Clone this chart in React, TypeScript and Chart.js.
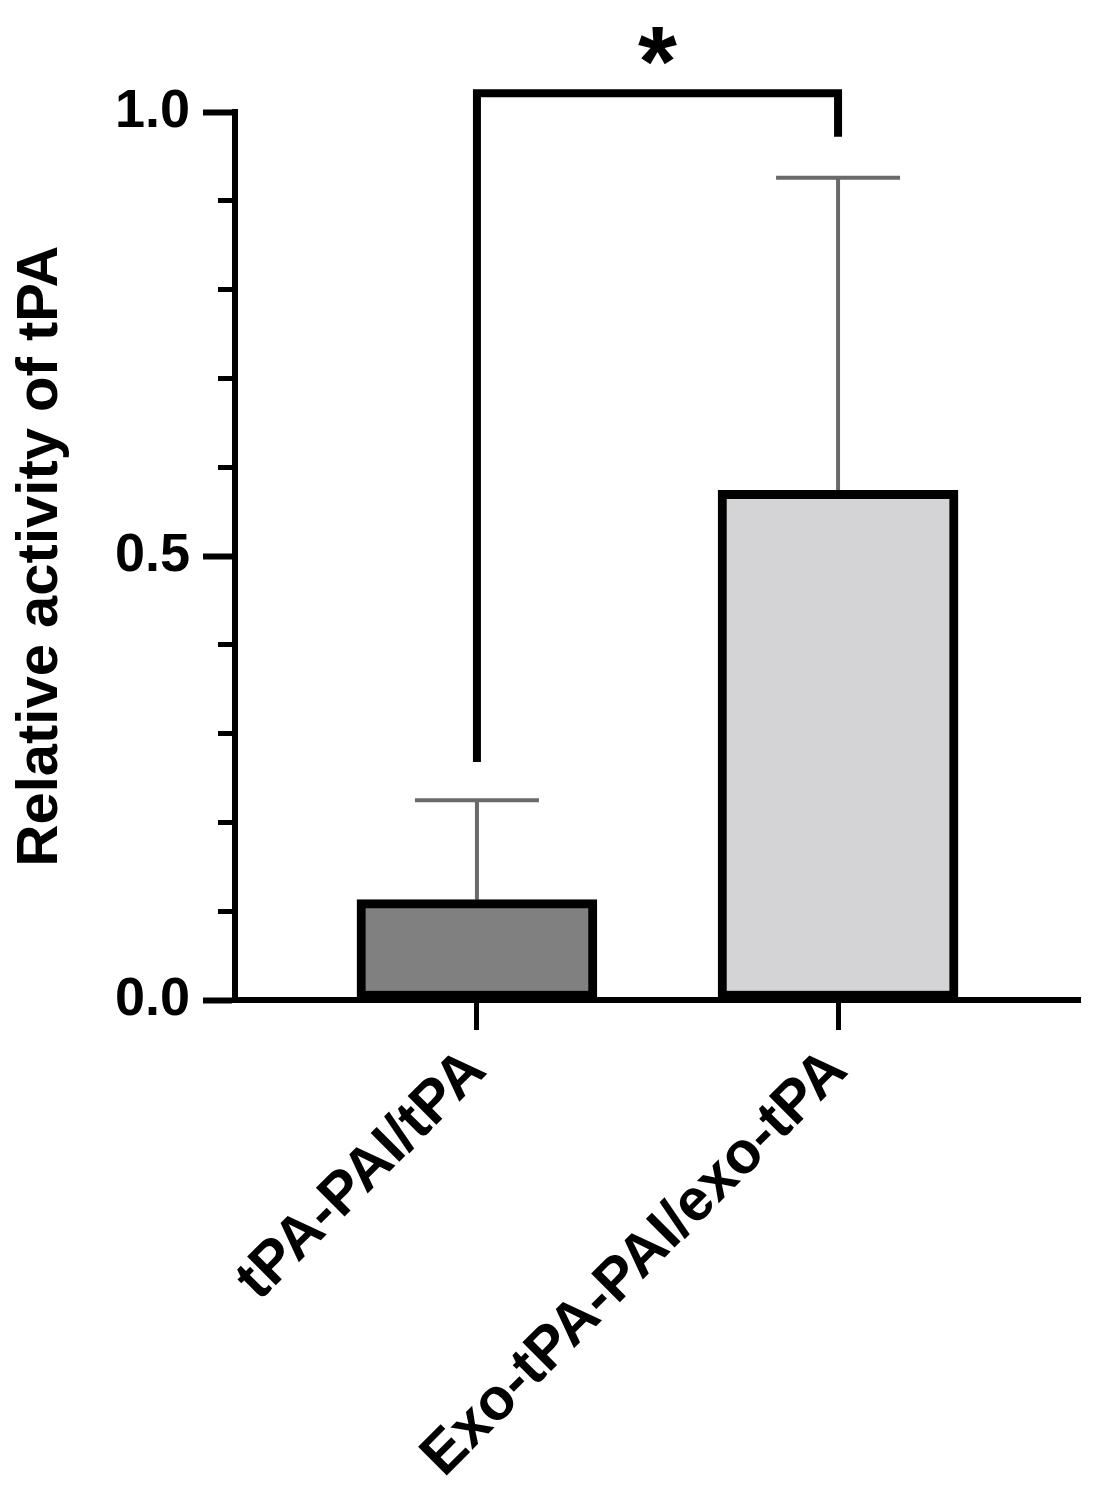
import { useEffect, useRef } from "react";
import { Chart, registerables } from "chart.js";

Chart.register(...registerables);

// ---- data ----
const CATEGORIES = ["tPA-PAI/tPA", "Exo-tPA-PAI/exo-tPA"];
const CATEGORY_POS = [0, 1];
const MEANS = [0.113, 0.574];
const ERROR_TOPS = [0.225, 0.926];
const BAR_COLORS = ["#808080", "#d4d4d7"];
const Y_TICKS = [0, 0.05, 0.1, 0.15, 0.2, 0.25, 0.3, 0.35, 0.4, 0.45, 0.5, 0.55, 0.6, 0.65, 0.7, 0.75, 0.8, 0.85, 0.9, 0.95, 1.0];
const Y_LABELED = [0, 0.5, 1.0];
const Y_TITLE = "Relative activity of tPA";
// significance bracket: left leg bottom, bracket top, right leg bottom (y values)
const BRACKET_Y = [0.268, 1.021, 0.972];
const SIG_MARK = "*";
const SIG_MARK_Y = 1.081;

const FONT_FAMILY = "'Liberation Sans', Arial, Helvetica, sans-serif";

const isLabeled = (v: number) => Y_LABELED.some((l) => Math.abs(l - v) < 1e-6);

export default function App() {
  const canvasRef = useRef<HTMLCanvasElement | null>(null);

  useEffect(() => {
    const canvas = canvasRef.current;
    if (!canvas) return;

    const overlay = {
      id: "overlay",
      beforeDatasetsDraw(chart: any) {
        const { ctx } = chart;
        const xs = chart.scales.x;
        const ys = chart.scales.y;
        ctx.save();
        ctx.strokeStyle = "#6a6a6a";
        ctx.lineWidth = 4;
        ctx.lineCap = "butt";
        CATEGORY_POS.forEach((p, i) => {
          const x = xs.getPixelForValue(p);
          const y0 = ys.getPixelForValue(MEANS[i]);
          const y1 = ys.getPixelForValue(ERROR_TOPS[i]);
          ctx.beginPath();
          ctx.moveTo(x, y0);
          ctx.lineTo(x, y1);
          ctx.stroke();
          ctx.beginPath();
          ctx.moveTo(x - 62, y1);
          ctx.lineTo(x + 62, y1);
          ctx.stroke();
        });
        ctx.restore();
      },
      afterDraw(chart: any) {
        const { ctx } = chart;
        const xs = chart.scales.x;
        const ys = chart.scales.y;
        const xl = xs.getPixelForValue(CATEGORY_POS[0]);
        const xr = xs.getPixelForValue(CATEGORY_POS[1]);
        ctx.save();
        ctx.strokeStyle = "#000";
        ctx.lineWidth = 8;
        ctx.lineJoin = "miter";
        ctx.beginPath();
        ctx.moveTo(xl, ys.getPixelForValue(BRACKET_Y[0]));
        ctx.lineTo(xl, ys.getPixelForValue(BRACKET_Y[1]));
        ctx.lineTo(xr, ys.getPixelForValue(BRACKET_Y[1]));
        ctx.lineTo(xr, ys.getPixelForValue(BRACKET_Y[2]));
        ctx.stroke();
        const size = 100;
        ctx.fillStyle = "#000";
        ctx.font = `bold ${size}px ${FONT_FAMILY}`;
        ctx.textAlign = "center";
        ctx.textBaseline = "alphabetic";
        ctx.fillText(SIG_MARK, (xl + xr) / 2, ys.getPixelForValue(SIG_MARK_Y) + size * 0.56);
        ctx.restore();
      },
    };

    const chart = new Chart(canvas, {
      type: "bar",
      data: {
        datasets: [
          {
            data: CATEGORY_POS.map((p, i) => ({ x: p, y: MEANS[i] })),
            backgroundColor: BAR_COLORS,
            borderColor: "#000",
            borderWidth: 9,
            borderSkipped: false,
            barThickness: 240,
          } as any,
        ],
      },
      options: {
        animation: false,
        responsive: false,
        maintainAspectRatio: false,
        layout: { padding: { left: 6, top: 112, right: 13, bottom: 0 } },
        plugins: { legend: { display: false }, tooltip: { enabled: false } },
        scales: {
          x: {
            type: "linear",
            min: -0.67,
            max: 1.67,
            offset: false,
            afterBuildTicks: (scale: any) => {
              scale.ticks = CATEGORY_POS.map((v) => ({ value: v }));
            },
            afterFit: (scale: any) => {
              scale.height = 1507 - 1000;
            },
            border: { display: true, color: "#000", width: 6 },
            grid: {
              offset: false,
              drawOnChartArea: false,
              drawTicks: true,
              tickLength: 30,
              tickWidth: 5,
              tickColor: "#000",
            },
            ticks: {
              autoSkip: false,
              minRotation: 45,
              maxRotation: 45,
              padding: 6,
              color: "#000",
              font: { family: FONT_FAMILY, size: 59, weight: "bold" },
              callback: (v: any) => {
                const idx = CATEGORY_POS.indexOf(Number(v));
                return idx >= 0 ? CATEGORIES[idx] : "";
              },
            },
          },
          y: {
            type: "linear",
            min: 0,
            max: 1,
            afterBuildTicks: (scale: any) => {
              scale.ticks = Y_TICKS.map((v) => ({ value: v }));
            },
            afterFit: (scale: any) => {
              scale.width = 235 - 6;
            },
            border: { display: true, color: "#000", width: 6 },
            grid: {
              drawOnChartArea: false,
              drawTicks: true,
              tickLength: 32,
              tickWidth: (c: any) => (isLabeled(c.tick?.value) ? 6 : 5),
              tickColor: "#000",
              tickBorderDash: (c: any) => (isLabeled(c.tick?.value) ? [] : [0, 15, 20, 100]),
            } as any,
            ticks: {
              padding: 13,
              color: "#000",
              font: { family: FONT_FAMILY, size: 54, weight: "bold" },
              callback: (v: any) => (isLabeled(Number(v)) ? Number(v).toFixed(1) : ""),
            },
            title: {
              display: true,
              text: Y_TITLE,
              color: "#000",
              padding: 0,
              font: { family: FONT_FAMILY, size: 58, weight: "bold" },
            },
          },
        },
      } as any,
      plugins: [overlay],
    });

    return () => chart.destroy();
  }, []);

  return (
    <div style={{ position: "absolute", left: 0, top: 0, width: 1093, height: 1507, overflow: "hidden", background: "#fff" }}>
      <canvas ref={canvasRef} width={1093} height={1507} style={{ width: 1093, height: 1507, display: "block" }} />
    </div>
  );
}
